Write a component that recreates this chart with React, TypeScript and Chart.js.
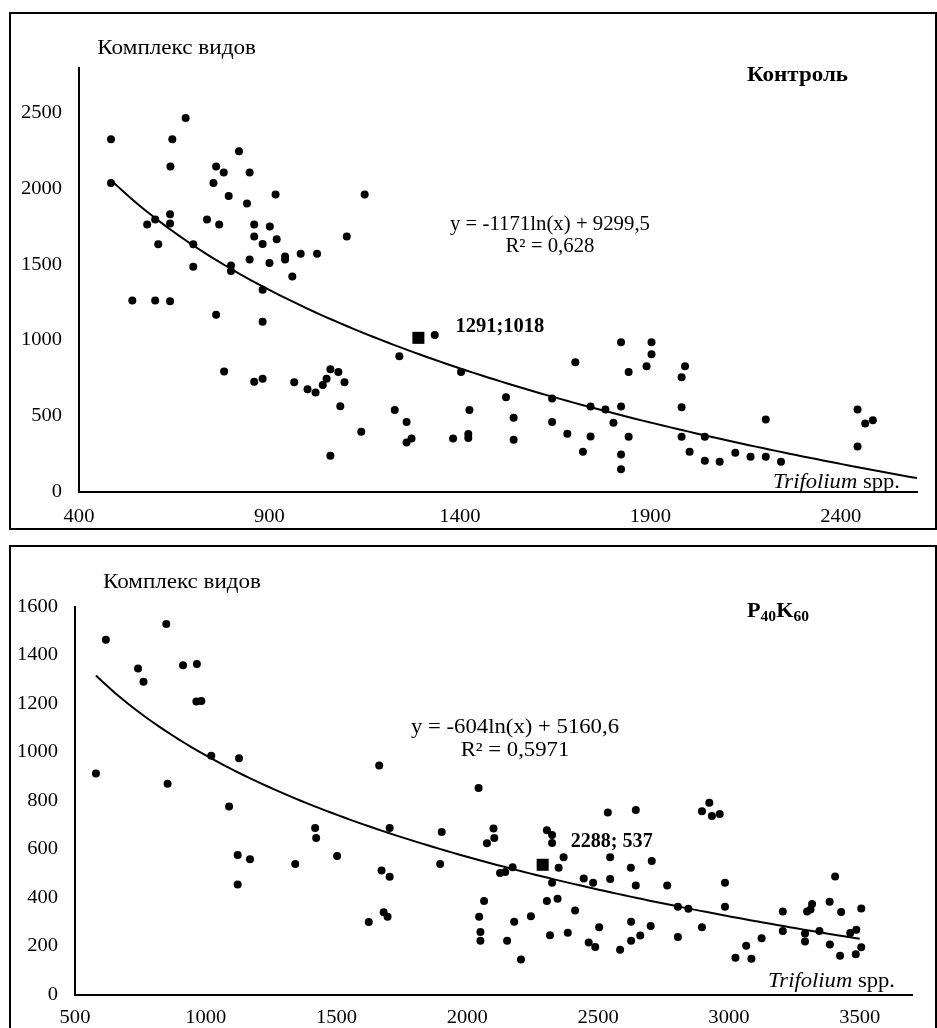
import React, { useEffect, useRef } from 'react';
import { Chart, registerables } from 'chart.js';

Chart.register(...registerables);

const FONT = "'Liberation Serif', 'Times New Roman', serif";

// ---------- Контроль ----------
const controlX = [
  484, 680, 645, 820, 640, 760, 780, 848, 484, 753, 793, 916, 1150, 841, 639, 600, 579, 639, 736, 768,
  860, 901, 860, 919, 882, 1103, 608, 700, 848, 900, 941, 941, 982, 1025, 700, 799, 799, 960, 540, 600,
  639, 760, 882, 882, 1334, 1241, 781, 860, 882, 965, 1000, 1021, 1040, 1050, 1060, 1081, 1097, 1086, 1060, 1141,
  1229, 1260, 1273, 1260, 1382, 1403, 1425, 1422, 1422, 1521, 1541, 1541, 1642, 1642, 1682, 1703, 1743, 1743, 1723, 1782,
  1803, 1823, 1823, 1823, 1823, 1843, 1843, 1890, 1903, 1903, 1982, 1991, 1982, 1982, 2003, 2043, 2043, 2082, 2123, 2163,
  2203, 2203, 2243, 2444, 2444, 2464, 2484,
];
const controlY = [
  2330, 2470, 2330, 2250, 2150, 2150, 2110, 2110, 2040, 2040, 1955, 1965, 1965, 1905, 1835, 1800, 1766, 1773, 1800, 1766,
  1766, 1753, 1687, 1669, 1638, 1687, 1636, 1636, 1535, 1512, 1555, 1535, 1574, 1574, 1487, 1495, 1460, 1423, 1264, 1264,
  1260, 1171, 1335, 1124, 1036, 896, 795, 728, 748, 724, 679, 657, 706, 748, 810, 792, 724, 567, 239, 398,
  542, 463, 354, 327, 354, 792, 542, 383, 356, 626, 491, 345, 618, 463, 385, 857, 564, 367, 266, 545,
  458, 989, 564, 248, 151, 792, 365, 830, 989, 910, 757, 830, 560, 365, 266, 365, 206, 199, 259, 232,
  232, 478, 199, 545, 301, 452, 474,
];
const controlMean = [1291, 1018];
const controlMeanLabel = '1291;1018';
const controlTrendCoef = [-1171, 9299.5];
const controlTrendRange = [484, 2600];
const controlXTicks = [400, 900, 1400, 1900, 2400];
const controlYTicks = [0, 500, 1000, 1500, 2000, 2500];
const controlEquation = ['y = -1171ln(x) + 9299,5', 'R² = 0,628'];
const controlTitle = 'Контроль';

// ---------- P40K60 ----------
const pkX = [
  618, 849, 741, 762, 913, 966, 964, 983, 1021, 1127, 580, 1663, 854, 1089, 1122, 1122, 1169, 1342, 1418, 1422,
  1502, 1623, 1672, 1680, 1695, 1703, 1703, 1902, 1896, 2043, 2045, 2050, 2050, 2064, 2100, 2103, 2075, 2125, 2145, 2173,
  2179, 2152, 2205, 2243, 2304, 2324, 2324, 2368, 2349, 2324, 2304, 2345, 2316, 2384, 2412, 2445, 2481, 2464, 2489, 2504,
  2537, 2546, 2546, 2584, 2625, 2626, 2626, 2644, 2644, 2661, 2705, 2701, 2764, 2805, 2805, 2845, 2897, 2897, 2925, 2935,
  2965, 2985, 2985, 3025, 3066, 3086, 3125, 3206, 3206, 3291, 3291, 3299, 3312, 3318, 3346, 3385, 3386, 3406, 3429, 3425,
  3464, 3487, 3485, 3506, 3506,
];
const pkY = [
  1465, 1530, 1346, 1292, 1360, 1365, 1210, 1212, 987, 976, 913, 946, 871, 777, 577, 456, 560, 540, 689, 647,
  573, 301, 513, 341, 323, 689, 488, 672, 540, 854, 323, 260, 224, 388, 687, 647, 626, 503, 507, 527,
  302, 224, 146, 325, 679, 660, 627, 568, 525, 463, 388, 397, 246, 257, 348, 480, 463, 217, 198, 279,
  753, 568, 478, 187, 525, 302, 224, 763, 452, 245, 553, 285, 452, 364, 239, 356, 279, 758, 793, 738,
  746, 463, 364, 154, 203, 150, 234, 344, 264, 254, 221, 344, 353, 375, 264, 385, 208, 489, 342, 162,
  256, 269, 168, 197, 357,
];
const pkMean = [2288, 537];
const pkMeanLabel = '2288; 537';
const pkTrendCoef = [-604, 5160.6];
const pkTrendRange = [580, 3500];
const pkXTicks = [500, 1000, 1500, 2000, 2500, 3000, 3500];
const pkYTicks = [0, 200, 400, 600, 800, 1000, 1200, 1400, 1600];
const pkEquation = ['y = -604ln(x) + 5160,6', 'R² = 0,5971'];
const pkTitle = ['P', '40', 'K', '60'];

const yAxisTitle = 'Комплекс видов';
const xAxisTitle = ['Trifolium', ' spp.'];

type Part = { text: string; font: string; dy?: number };

// draws a run of text parts, horizontally stretched so that it spans `target` px (or by factor sx)
function drawRun(
  ctx: CanvasRenderingContext2D,
  parts: Part[],
  x: number,
  y: number,
  align: 'left' | 'center' | 'right',
  target: number | null,
  sxFixed?: number
) {
  let total = 0;
  parts.forEach((p) => {
    ctx.font = p.font;
    total += ctx.measureText(p.text).width;
  });
  const sx = target ? target / total : sxFixed || 1;
  const w = total * sx;
  const left = align === 'left' ? x : align === 'center' ? x - w / 2 : x - w;
  ctx.save();
  ctx.translate(left, y);
  ctx.scale(sx, 1);
  ctx.textAlign = 'left';
  ctx.textBaseline = 'middle';
  let cx = 0;
  parts.forEach((p) => {
    ctx.font = p.font;
    ctx.fillText(p.text, cx, p.dy || 0);
    cx += ctx.measureText(p.text).width;
  });
  ctx.restore();
  return sx;
}

type Cfg = {
  top: number;
  height: number;
  xs: number[];
  ys: number[];
  mean: number[];
  meanLabel: string;
  meanOffset: number[];
  meanW: number;
  coef: number[];
  range: number[];
  xTicks: number[];
  yTicks: number[];
  xMin: number;
  xMax: number;
  yMax: number;
  padTop: number;
  padRight: number;
  yAxisW: number;
  xAxisH: number;
  xLabelDy: number;
  axisTitleAt: number[];
  titleParts: Part[];
  titleAt: number[];
  equation: string[];
  eqPos: number[];
  eqW: number;
  trifOffset: number[];
};

const TICK_FONT = `18.5px ${FONT}`;
const TICK_SX = 1.11;

function ScatterBox({ cfg }: { cfg: Cfg }) {
  const ref = useRef<HTMLCanvasElement | null>(null);
  useEffect(() => {
    if (!ref.current) return;
    const points = cfg.xs.map((x, i) => ({ x, y: cfg.ys[i] }));
    const trend: { x: number; y: number }[] = [];
    const n = 120;
    for (let i = 0; i <= n; i++) {
      const x = cfg.range[0] + ((cfg.range[1] - cfg.range[0]) * i) / n;
      trend.push({ x, y: cfg.coef[0] * Math.log(x) + cfg.coef[1] });
    }
    const textPlugin = {
      id: 'texts',
      afterDraw(chart: any) {
        const ctx: CanvasRenderingContext2D = chart.ctx;
        const area = chart.chartArea;
        const xs = chart.scales.x;
        const ys = chart.scales.y;
        ctx.save();
        ctx.fillStyle = '#000';
        // tick labels
        xs.ticks.forEach((t: any) => {
          drawRun(ctx, [{ text: String(t.value), font: TICK_FONT }], xs.getPixelForValue(t.value), area.bottom + cfg.xLabelDy, 'center', null, TICK_SX);
        });
        ys.ticks.forEach((t: any) => {
          drawRun(ctx, [{ text: String(t.value), font: TICK_FONT }], area.left - 17, ys.getPixelForValue(t.value), 'right', null, TICK_SX);
        });
        // y axis title
        drawRun(ctx, [{ text: yAxisTitle, font: `20px ${FONT}` }], cfg.axisTitleAt[0], cfg.axisTitleAt[1], 'left', cfg.axisTitleAt[2]);
        // chart title
        drawRun(ctx, cfg.titleParts, cfg.titleAt[0], cfg.titleAt[1], 'left', cfg.titleAt[2]);
        // equation
        const sx = drawRun(ctx, [{ text: cfg.equation[0], font: `20px ${FONT}` }], cfg.eqPos[0], cfg.eqPos[1], 'center', cfg.eqW);
        drawRun(ctx, [{ text: cfg.equation[1], font: `20px ${FONT}` }], cfg.eqPos[0], cfg.eqPos[2], 'center', null, sx);
        // mean label
        const mx = xs.getPixelForValue(cfg.mean[0]);
        const my = ys.getPixelForValue(cfg.mean[1]);
        drawRun(ctx, [{ text: cfg.meanLabel, font: `bold 20px ${FONT}` }], mx + cfg.meanOffset[0], my + cfg.meanOffset[1], 'left', cfg.meanW);
        // x axis title
        drawRun(
          ctx,
          [
            { text: xAxisTitle[0], font: `italic 20px ${FONT}` },
            { text: xAxisTitle[1], font: `20px ${FONT}` },
          ],
          area.right - cfg.trifOffset[0],
          area.bottom - cfg.trifOffset[1],
          'right',
          127
        );
        ctx.restore();
      },
    };
    const chart = new Chart(ref.current, {
      type: 'scatter',
      data: {
        datasets: [
          {
            data: trend,
            showLine: true,
            borderColor: '#000',
            borderWidth: 2,
            pointRadius: 0,
            fill: false,
            order: 3,
          } as any,
          {
            data: points,
            pointRadius: 4,
            pointStyle: 'circle',
            backgroundColor: '#000',
            borderWidth: 0,
            order: 2,
          },
          {
            data: [{ x: cfg.mean[0], y: cfg.mean[1] }],
            pointRadius: 8.5,
            pointStyle: 'rect',
            backgroundColor: '#000',
            borderWidth: 0,
            order: 1,
          },
        ],
      },
      options: {
        animation: false,
        responsive: false,
        events: [],
        layout: { padding: { top: cfg.padTop, right: cfg.padRight, left: 0, bottom: 0 } },
        plugins: { legend: { display: false }, tooltip: { enabled: false } },
        scales: {
          x: {
            type: 'linear',
            min: cfg.xMin,
            max: cfg.xMax,
            afterBuildTicks: (s: any) => {
              s.ticks = cfg.xTicks.map((v) => ({ value: v }));
            },
            afterFit: (s: any) => {
              s.height = cfg.xAxisH;
            },
            grid: { display: false, drawTicks: false },
            border: { display: true, color: '#000', width: 2 },
            ticks: { display: false },
          },
          y: {
            type: 'linear',
            min: 0,
            max: cfg.yMax,
            afterBuildTicks: (s: any) => {
              s.ticks = cfg.yTicks.map((v) => ({ value: v }));
            },
            afterFit: (s: any) => {
              s.width = cfg.yAxisW;
            },
            grid: { display: false, drawTicks: false },
            border: { display: true, color: '#000', width: 2 },
            ticks: { display: false },
          },
        },
      } as any,
      plugins: [textPlugin],
    });
    return () => chart.destroy();
  }, [cfg]);
  return (
    <div
      style={{
        position: 'absolute',
        left: 9,
        top: cfg.top,
        width: 928,
        height: cfg.height + 4,
        border: '2px solid #000',
        boxSizing: 'border-box',
        background: '#fff',
      }}
    >
      <canvas ref={ref} width={924} height={cfg.height} style={{ display: 'block' }} />
    </div>
  );
}

const controlCfg: Cfg = {
  top: 12,
  height: 514,
  xs: controlX,
  ys: controlY,
  mean: controlMean,
  meanLabel: controlMeanLabel,
  meanOffset: [37, -11],
  meanW: 89,
  coef: controlTrendCoef,
  range: controlTrendRange,
  xTicks: controlXTicks,
  yTicks: controlYTicks,
  xMin: 400,
  xMax: 2600,
  yMax: 2800,
  padTop: 54,
  padRight: 18,
  yAxisW: 68,
  xAxisH: 36,
  xLabelDy: 24.7,
  axisTitleAt: [86.3, 35, 158.7],
  titleParts: [{ text: controlTitle, font: `bold 21px ${FONT}` }],
  titleAt: [736, 61.3, 101],
  equation: controlEquation,
  eqPos: [539, 211, 233],
  eqW: 200,
  trifOffset: [17, 9.3],
};

const pkCfg: Cfg = {
  top: 545,
  height: 493,
  xs: pkX,
  ys: pkY,
  mean: pkMean,
  meanLabel: pkMeanLabel,
  meanOffset: [28, -23],
  meanW: 82,
  coef: pkTrendCoef,
  range: pkTrendRange,
  xTicks: pkXTicks,
  yTicks: pkYTicks,
  xMin: 500,
  xMax: 3700,
  yMax: 1600,
  padTop: 60,
  padRight: 23,
  yAxisW: 64,
  xAxisH: 45,
  xLabelDy: 23,
  axisTitleAt: [92, 36, 158],
  titleParts: [
    { text: pkTitle[0], font: `bold 20px ${FONT}` },
    { text: pkTitle[1], font: `bold 14px ${FONT}`, dy: 5 },
    { text: pkTitle[2], font: `bold 20px ${FONT}` },
    { text: pkTitle[3], font: `bold 14px ${FONT}`, dy: 5 },
  ],
  titleAt: [736, 65, 62],
  equation: pkEquation,
  eqPos: [504, 181, 203.5],
  eqW: 208,
  trifOffset: [17, 13],
};

export default function App() {
  return (
    <div
      style={{
        position: 'fixed',
        left: 0,
        top: 0,
        width: 937,
        height: 1028,
        overflow: 'hidden',
        background: '#fff',
      }}
    >
      <ScatterBox cfg={controlCfg} />
      <ScatterBox cfg={pkCfg} />
    </div>
  );
}
